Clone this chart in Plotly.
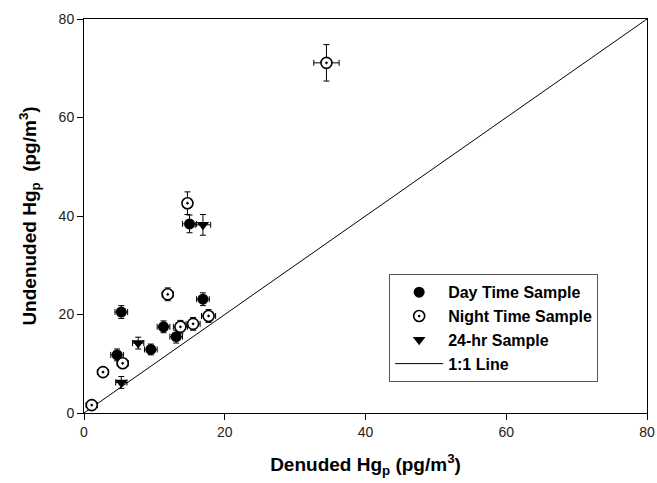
import plotly.graph_objects as go

# Day time samples
day_x = [5.3, 4.7, 9.5, 11.3, 13.1, 15.0, 16.9]
day_y = [20.5, 11.8, 12.9, 17.5, 15.5, 38.4, 23.1]
day_xerr = [0.9, 0.9, 0.9, 0.9, 0.9, 1.0, 0.9]
day_yerr = [1.3, 1.2, 1.1, 1.2, 1.3, 1.8, 1.3]

# Night time samples
night_x = [1.1, 2.7, 5.5, 11.9, 13.7, 15.5, 17.7, 14.7, 34.45]
night_y = [1.6, 8.3, 10.1, 24.1, 17.5, 18.1, 19.7, 42.6, 71.1]
night_xerr = [0.8, 0.8, 0.8, 0.8, 1.0, 1.0, 1.0, 0.6, 1.8]
night_yerr = [0.9, 0.9, 0.9, 1.3, 1.3, 1.3, 1.3, 2.3, 3.7]

# 24-hr samples
h24_x = [5.3, 7.7, 16.9]
h24_y = [6.2, 14.2, 38.2]
h24_xerr = [0.8, 0.8, 1.1]
h24_yerr = [1.2, 1.2, 2.1]

# 1:1 line
line_x = [0, 80]
line_y = [0, 80]

def eb(arr):
    return dict(type="data", array=arr, color="black", thickness=1, width=3)

fig = go.Figure()
fig.add_trace(go.Scatter(x=line_x, y=line_y, mode="lines", name="<b>1:1 Line</b>",
                         line=dict(color="black", width=1), legendrank=4))
fig.add_trace(go.Scatter(x=day_x, y=day_y, mode="markers", name="<b>Day Time Sample</b>",
                         marker=dict(symbol="circle", size=11, color="black"),
                         error_x=eb(day_xerr), error_y=eb(day_yerr), legendrank=1))
fig.add_trace(go.Scatter(x=night_x, y=night_y, mode="markers", name="<b>Night Time Sample</b>",
                         marker=dict(symbol="circle-dot", size=11, color="white",
                                     line=dict(width=1.6, color="black")),
                         error_x=eb(night_xerr), error_y=eb(night_yerr), legendrank=2))
fig.add_trace(go.Scatter(x=h24_x, y=h24_y, mode="markers", name="<b>24-hr Sample</b>",
                         marker=dict(symbol="triangle-down", size=11, color="black"),
                         error_x=eb(h24_xerr), error_y=eb(h24_yerr), legendrank=3))

axis_common = dict(showgrid=False, zeroline=False, showline=True, linecolor="black",
                   linewidth=1, mirror=True, ticks="outside", ticklen=6, tickcolor="black",
                   tickfont=dict(family="Liberation Sans, Arial", size=14, color="#222"),
                   range=[0, 80], dtick=20, automargin=False)

fig.update_layout(
    width=657, height=483,
    margin=dict(l=84, r=10, t=19, b=70),
    paper_bgcolor="white", plot_bgcolor="white",
    font=dict(family="Liberation Sans, Arial", color="black"),
    xaxis=dict(**axis_common,
               title=dict(text="<b>Denuded Hg<sub>p</sub> (pg/m<sup>3</sup>)</b>",
                          font=dict(size=19), standoff=18)),
    yaxis=dict(**axis_common,
               title=dict(text="<b>Undenuded Hg<sub>p</sub>  (pg/m<sup>3</sup>)</b>",
                          font=dict(size=19), standoff=16)),
    legend=dict(x=0.542, y=0.352, xanchor="left", yanchor="top",
                bordercolor="#555", borderwidth=1, bgcolor="white",
                font=dict(size=16, family="Liberation Sans, Arial", color="black"),
                tracegroupgap=0, itemwidth=48),
    showlegend=True,
)

fig.write_html("out.html", config={"displayModeBar": False},
               post_script="document.body.style.margin='0';document.body.style.overflow='hidden';")
